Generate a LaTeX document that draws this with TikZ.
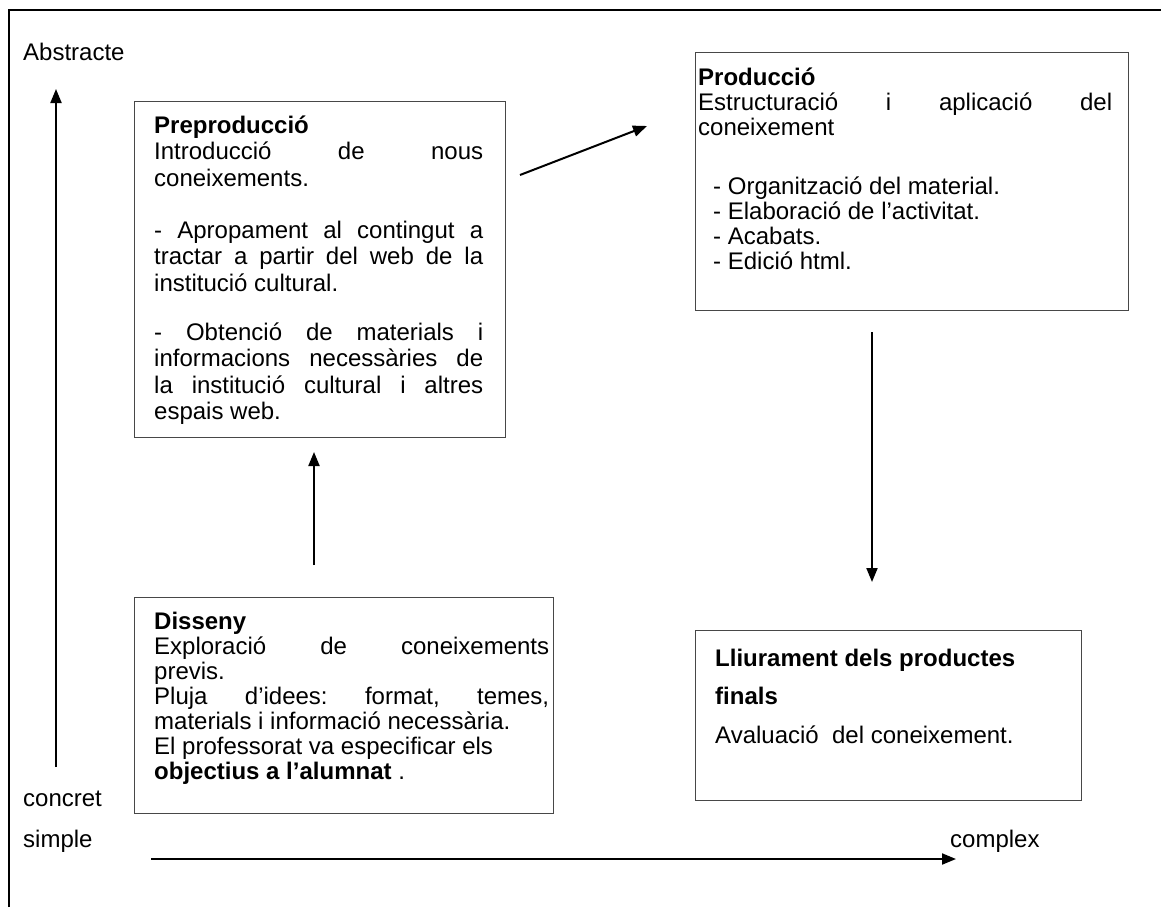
\documentclass[tikz,border=0pt]{standalone}
\usepackage{fontspec}
\setmainfont{Liberation Sans}
\usepackage{tikz}
\usetikzlibrary{positioning}
\usetikzlibrary{arrows.meta}

% justified line and a fixed first-line height
\newcommand{\jline}[1]{\makebox[\hsize][s]{#1}}
\newcommand{\firststrut}{\rule{0pt}{19pt}}
\frenchspacing

\tikzset{
  box/.style={draw=black!72, line width=1.3pt, inner sep=0pt, anchor=north west},
  boxtext/.style={inner sep=0pt, anchor=north west, align=left,
    execute at begin node={\spaceskip=0pt\xspaceskip=0pt\frenchspacing\relax}},
  lbl/.style={inner sep=0pt, anchor=base west, font=\fontsize{24}{27}\selectfont},
  flow/.style={line width=2pt, -{Triangle[length=14pt, width=11pt]}}
}

\begin{document}
\begin{tikzpicture}[x=1pt, y=-1pt]
\useasboundingbox (0,0) rectangle (1161,907);
% frame
\draw[line width=2pt] (9,907) -- (9,10) -- (1161,10);

% axis labels
\node[lbl] (abstr) at (23,60) {Abstracte};
\node[lbl] (concr) at (23,806) {concret};
\node[lbl] (simpl) at (23,847) {simple};
\node[lbl] (compl) at (950,847) {complex};

% Disseny
\node[box, minimum width=419pt, minimum height=216pt] (dis) at (134,597) {};
\node[boxtext, text width=395pt, font=\fontsize{24}{25.1}\selectfont]
  (distext) at ([shift={(20,13)}]dis.north west) {%
  \firststrut\textbf{Disseny}\\
  \jline{Exploració de coneixements}\\
  previs.\\
  \jline{Pluja d’idees: format, temes,}\\
  materials i informació necessària.\\
  El professorat va especificar els\\
  \textbf{objectius a l’alumnat} .};

% Preproduccio
\node[box, minimum width=371pt, minimum height=336pt] (pre) at (134,101) {};
\node[boxtext, text width=329pt, font=\fontsize{24}{26.5}\selectfont]
  (pretext) at ([shift={(20,13)}]pre.north west) {%
  \firststrut\textbf{Preproducció}\\
  \jline{Introducció de nous}\\
  coneixements.\\[25.5pt]
  \jline{- Apropament al contingut a}\\
  \jline{tractar a partir del web de la}\\
  institució cultural.\\[22.5pt]
  \jline{- Obtenció de materials i}\\
  \jline{informacions necessàries de}\\
  \jline{la institució cultural i altres}\\
  espais web.};

% Produccio
\node[box, minimum width=433pt, minimum height=258pt] (prod) at (695,52) {};
\node[boxtext, text width=414pt, font=\fontsize{24}{25}\selectfont]
  (prodtext) at ([shift={(3,14)}]prod.north west) {%
  \firststrut\textbf{Producció}\\
  \jline{Estructuració i aplicació del}\\
  coneixement\\[34.5pt]
  \hspace*{15pt}- Organització del material.\\
  \hspace*{15pt}- Elaboració de l’activitat.\\
  \hspace*{15pt}- Acabats.\\
  \hspace*{15pt}- Edició html.};

% Lliurament
\node[box, minimum width=386pt, minimum height=170pt] (lliu) at (695,630) {};
\node[boxtext, text width=360pt, font=\fontsize{24}{38.5}\selectfont]
  (lliutext) at ([shift={(20,17)}]lliu.north west) {%
  \firststrut\textbf{Lliurament dels productes}\\
  \textbf{finals}\\
  Avaluació\ \ del coneixement.};

% arrows between the stages
\coordinate (dis0) at (314,565);
\coordinate (dis1) at (314,452);
\coordinate (pre0) at (520,175);
\coordinate (pre1) at (647,126);
\coordinate (prod0) at (872,332);
\coordinate (prod1) at (872,582);
\draw[flow] (dis0) -- (dis1);
\draw[flow] (pre0) -- (pre1);
\draw[flow] (prod0) -- (prod1);

% axes
\coordinate (ax0) at (56,767);
\coordinate (ax1) at (56,89);
\coordinate (ay0) at (151,859);
\coordinate (ay1) at (956,859);
\draw[flow] (ax0) -- (ax1);
\draw[flow] (ay0) -- (ay1);
\end{tikzpicture}
\end{document}
